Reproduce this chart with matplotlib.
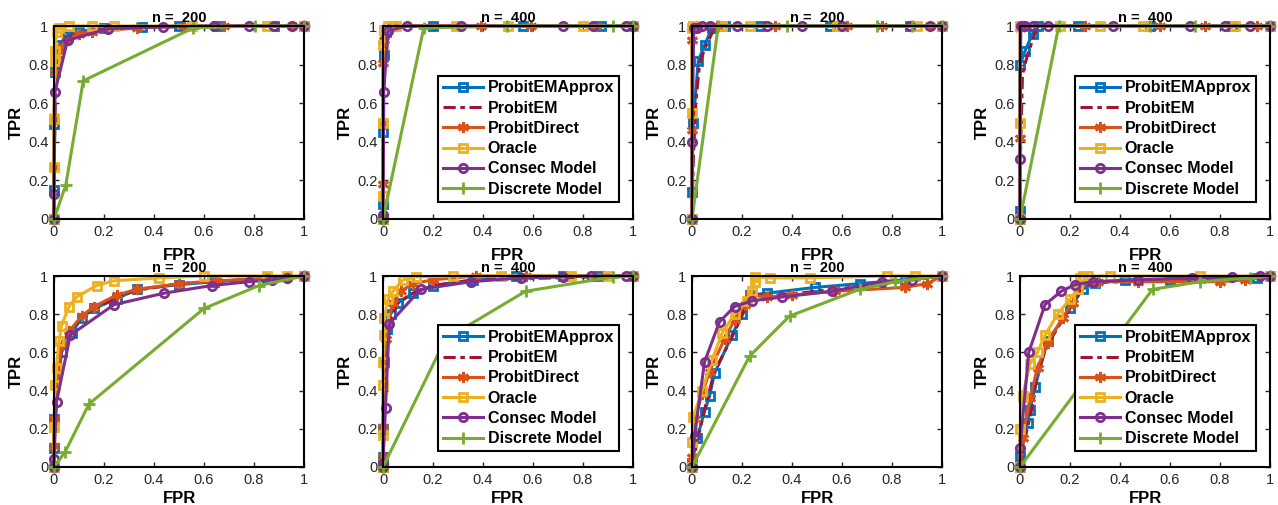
import matplotlib
matplotlib.use("Agg")
import matplotlib.pyplot as plt

# ROC points (FPR, TPR), one list per method and panel
# top row, panel 1 (n = 200)
t1_approx = [(0, 0), (0, 0.15), (0, 0.49), (0.005, 0.76), (0.02, 0.9), (0.05, 0.95), (0.1, 0.97), (0.2, 0.99), (0.35, 0.995), (0.5, 1), (0.65, 1), (0.88, 1), (1, 1)]
t1_em = [(0, 0), (0, 0.2), (0.005, 0.6), (0.01, 0.82), (0.03, 0.9), (0.07, 0.95), (0.15, 0.98), (0.3, 0.99), (0.6, 1), (1, 1)]
t1_direct = [(0, 0), (0, 0.27), (0, 0.53), (0.003, 0.76), (0.01, 0.85), (0.02, 0.88), (0.05, 0.93), (0.1, 0.96), (0.15, 0.97), (0.33, 0.99), (0.52, 1), (0.68, 1), (0.95, 1), (1, 1)]
t1_oracle = [(0, 0), (0, 0.27), (0, 0.52), (0.005, 0.82), (0.005, 0.87), (0.01, 0.97), (0.02, 0.99), (0.06, 1), (0.15, 1), (0.24, 1), (0.55, 1), (0.85, 1), (1, 1)]
t1_consec = [(0, 0), (0, 0.13), (0.004, 0.66), (0.054, 0.925), (0.215, 0.986), (0.436, 0.995), (0.64, 1), (0.78, 1), (0.88, 1), (0.95, 1), (1, 1)]
t1_discrete = [(0, 0), (0.047, 0.175), (0.117, 0.716), (0.557, 0.99), (0.805, 1), (1, 1)]

# top row, panel 2 (n = 400)
t2_approx = [(0, 0), (0, 0.08), (0, 0.45), (0.003, 0.85), (0.01, 0.97), (0.04, 1), (0.2, 1), (0.56, 1), (0.87, 1), (1, 1)]
t2_em = [(0, 0), (0, 0.3), (0.003, 0.8), (0.01, 0.96), (0.04, 1), (0.3, 1), (1, 1)]
t2_direct = [(0, 0), (0, 0.18), (0, 0.5), (0, 0.81), (0.005, 0.93), (0.02, 0.99), (0.05, 1), (0.39, 1), (0.59, 1), (0.85, 1), (1, 1)]
t2_oracle = [(0, 0), (0, 0.12), (0, 0.5), (0, 0.9), (0.005, 0.98), (0.02, 1), (0.05, 1), (0.29, 1), (0.5, 1), (0.8, 1), (1, 1)]
t2_consec = [(0, 0), (0, 0.02), (0.003, 0.66), (0.02, 0.975), (0.095, 1), (0.31, 1), (0.72, 1), (0.84, 1), (0.97, 1), (1, 1)]
t2_discrete = [(0, 0), (0.163, 0.99), (0.497, 1), (0.92, 1), (1, 1)]

# top row, panel 3 (n = 200)
t3_approx = [(0, 0), (0, 0.14), (0.005, 0.5), (0.025, 0.82), (0.05, 0.9), (0.08, 0.99), (0.13, 1), (0.27, 1), (0.55, 1), (0.87, 1), (1, 1)]
t3_em = [(0, 0), (0.005, 0.3), (0.015, 0.6), (0.03, 0.8), (0.05, 0.88), (0.09, 0.99), (0.2, 1), (1, 1)]
t3_direct = [(0, 0), (0, 0.46), (0, 0.93), (0.005, 0.99), (0.02, 1), (0.1, 1), (0.33, 1), (0.62, 1), (0.76, 1), (0.95, 1), (1, 1)]
t3_oracle = [(0, 0), (0, 0.55), (0, 0.99), (0.003, 1), (0.12, 1), (0.23, 1), (0.58, 1), (0.9, 1), (1, 1)]
t3_consec = [(0, 0), (0, 0.4), (0.007, 0.99), (0.02, 0.99), (0.04, 1), (0.07, 1), (0.18, 1), (0.3, 1), (0.44, 1), (0.6, 1), (0.87, 1), (0.95, 1), (1, 1)]
t3_discrete = [(0, 0), (0.105, 1), (0.38, 1), (0.74, 1), (0.88, 1), (1, 1)]

# top row, panel 4 (n = 400)
t4_approx = [(0, 0), (0, 0.04), (0, 0.8), (0.02, 0.87), (0.05, 0.96), (0.07, 1), (0.23, 1), (0.52, 1), (0.85, 1), (1, 1)]
t4_em = [(0, 0), (0.003, 0.4), (0.01, 0.75), (0.03, 0.85), (0.07, 1), (0.2, 1), (1, 1)]
t4_direct = [(0, 0), (0, 0.42), (0, 0.99), (0.01, 1), (0.26, 1), (0.56, 1), (0.74, 1), (0.95, 1), (1, 1)]
t4_oracle = [(0, 0), (0, 0.5), (0, 1), (0.16, 1), (0.32, 1), (0.49, 1), (0.86, 1), (1, 1)]
t4_consec = [(0, 0), (0, 0.31), (0.003, 1), (0.02, 1), (0.05, 1), (0.11, 1), (0.37, 1), (0.68, 1), (0.82, 1), (0.92, 1), (1, 1)]
t4_discrete = [(0, 0), (0.155, 1), (0.52, 1), (0.7, 1), (1, 1)]

# bottom row, panel 1 (n = 200)
b1_approx = [(0, 0), (0, 0.1), (0, 0.25), (0.03, 0.6), (0.07, 0.7), (0.11, 0.78), (0.16, 0.83), (0.25, 0.88), (0.33, 0.93), (0.5, 0.955), (0.64, 0.97), (0.85, 0.99), (1, 1)]
b1_em = [(0, 0), (0, 0.2), (0.03, 0.62), (0.07, 0.71), (0.11, 0.79), (0.25, 0.89), (0.33, 0.925), (0.5, 0.96), (1, 1)]
b1_direct = [(0, 0), (0, 0.11), (0, 0.25), (0.03, 0.64), (0.06, 0.71), (0.11, 0.79), (0.16, 0.84), (0.25, 0.9), (0.33, 0.93), (0.5, 0.96), (0.65, 0.975), (0.93, 0.99), (1, 1)]
b1_oracle = [(0, 0), (0, 0.21), (0.003, 0.43), (0.01, 0.52), (0.02, 0.66), (0.03, 0.74), (0.06, 0.84), (0.09, 0.89), (0.17, 0.95), (0.24, 0.975), (0.42, 0.99), (0.6, 1), (0.85, 1), (0.93, 1), (1, 1)]
b1_consec = [(0, 0), (0, 0.04), (0.01, 0.34), (0.065, 0.69), (0.24, 0.85), (0.44, 0.91), (0.63, 0.95), (0.78, 0.97), (0.87, 0.98), (0.93, 0.99), (1, 1)]
b1_discrete = [(0, 0), (0.045, 0.08), (0.14, 0.33), (0.6, 0.83), (0.82, 0.95), (1, 1)]

# bottom row, panel 2 (n = 400)
b2_approx = [(0, 0), (0, 0.05), (0, 0.2), (0.005, 0.55), (0.015, 0.72), (0.03, 0.8), (0.06, 0.86), (0.12, 0.91), (0.2, 0.95), (0.36, 0.98), (0.53, 1), (0.72, 1), (0.86, 1), (1, 1)]
b2_em = [(0, 0), (0, 0.2), (0.01, 0.6), (0.03, 0.78), (0.06, 0.86), (0.12, 0.91), (0.2, 0.95), (0.37, 0.98), (1, 1)]
b2_direct = [(0, 0), (0, 0.05), (0, 0.21), (0.003, 0.54), (0.01, 0.67), (0.02, 0.76), (0.04, 0.86), (0.07, 0.92), (0.12, 0.96), (0.2, 0.98), (0.37, 1), (0.57, 1), (0.88, 1), (1, 1)]
b2_oracle = [(0, 0), (0, 0.17), (0, 0.43), (0, 0.55), (0.005, 0.69), (0.005, 0.78), (0.02, 0.88), (0.04, 0.92), (0.08, 0.98), (0.13, 0.995), (0.28, 1), (0.47, 1), (0.75, 1), (0.9, 1), (1, 1)]
b2_consec = [(0, 0), (0, 0.02), (0.01, 0.31), (0.025, 0.75), (0.15, 0.93), (0.35, 0.97), (0.55, 0.99), (0.72, 0.995), (0.83, 1), (0.97, 1), (1, 1)]
b2_discrete = [(0, 0), (0.25, 0.67), (0.57, 0.92), (0.92, 0.995), (1, 1)]

# bottom row, panel 3 (n = 200)
b3_approx = [(0, 0), (0, 0.02), (0.02, 0.15), (0.05, 0.29), (0.07, 0.37), (0.09, 0.49), (0.16, 0.69), (0.2, 0.8), (0.23, 0.9), (0.3, 0.91), (0.49, 0.94), (0.67, 0.96), (0.85, 0.98), (1, 1)]
b3_em = [(0, 0), (0.02, 0.13), (0.05, 0.3), (0.09, 0.5), (0.16, 0.68), (0.21, 0.82), (0.24, 0.9), (0.35, 0.9), (0.5, 0.92), (0.7, 0.95), (1, 1)]
b3_direct = [(0, 0), (0, 0.05), (0.01, 0.25), (0.04, 0.38), (0.07, 0.5), (0.13, 0.67), (0.17, 0.77), (0.21, 0.85), (0.23, 0.9), (0.3, 0.89), (0.4, 0.9), (0.57, 0.92), (0.85, 0.94), (0.94, 0.96), (1, 1)]
b3_oracle = [(0, 0), (0, 0.13), (0.005, 0.26), (0.04, 0.4), (0.08, 0.56), (0.12, 0.7), (0.17, 0.8), (0.22, 0.87), (0.24, 0.92), (0.25, 0.97), (0.25, 0.995), (0.31, 0.99), (0.47, 0.99), (0.78, 1), (0.89, 1), (1, 1)]
b3_consec = [(0, 0), (0.01, 0.16), (0.05, 0.55), (0.11, 0.76), (0.17, 0.84), (0.24, 0.87), (0.36, 0.89), (0.56, 0.92), (0.76, 0.97), (0.88, 0.98), (1, 1)]
b3_discrete = [(0, 0), (0.23, 0.58), (0.39, 0.79), (0.67, 0.93), (0.81, 0.97), (1, 1)]

# bottom row, panel 4 (n = 400)
b4_approx = [(0, 0), (0, 0.06), (0.03, 0.23), (0.04, 0.3), (0.06, 0.42), (0.11, 0.66), (0.2, 0.83), (0.25, 0.93), (0.3, 0.965), (0.42, 0.98), (0.6, 0.98), (0.95, 0.99), (1, 1)]
b4_em = [(0, 0), (0.02, 0.15), (0.05, 0.32), (0.07, 0.5), (0.11, 0.64), (0.17, 0.77), (0.21, 0.85), (0.25, 0.94), (0.3, 0.965), (1, 1)]
b4_direct = [(0, 0), (0.01, 0.15), (0.04, 0.36), (0.07, 0.52), (0.11, 0.65), (0.17, 0.78), (0.21, 0.86), (0.24, 0.96), (0.31, 0.97), (0.47, 0.97), (0.8, 0.97), (0.9, 0.98), (1, 1)]
b4_oracle = [(0, 0), (0, 0.2), (0.01, 0.37), (0.04, 0.54), (0.07, 0.6), (0.1, 0.69), (0.15, 0.8), (0.2, 0.88), (0.23, 0.93), (0.24, 0.99), (0.25, 1), (0.27, 1), (0.36, 1), (0.72, 1), (1, 1)]
b4_consec = [(0, 0), (0, 0.1), (0.035, 0.6), (0.1, 0.85), (0.165, 0.92), (0.22, 0.955), (0.29, 0.97), (0.47, 0.98), (0.69, 0.99), (0.85, 0.995), (0.96, 1), (1, 1)]
b4_discrete = [(0, 0), (0.53, 0.93), (0.72, 0.97), (0.92, 0.99), (1, 1)]

method_names = ["ProbitEMApprox", "ProbitEM", "ProbitDirect", "Oracle", "Consec Model", "Discrete Model"]
panel_titles = ["n =  200", "n =  400", "n =  200", "n =  400"]
tick_vals = [0, 0.2, 0.4, 0.6, 0.8, 1]
tick_labels = ["0", "0.2", "0.4", "0.6", "0.8", "1"]

panels = [
    [t1_approx, t1_em, t1_direct, t1_oracle, t1_consec, t1_discrete],
    [t2_approx, t2_em, t2_direct, t2_oracle, t2_consec, t2_discrete],
    [t3_approx, t3_em, t3_direct, t3_oracle, t3_consec, t3_discrete],
    [t4_approx, t4_em, t4_direct, t4_oracle, t4_consec, t4_discrete],
    [b1_approx, b1_em, b1_direct, b1_oracle, b1_consec, b1_discrete],
    [b2_approx, b2_em, b2_direct, b2_oracle, b2_consec, b2_discrete],
    [b3_approx, b3_em, b3_direct, b3_oracle, b3_consec, b3_discrete],
    [b4_approx, b4_em, b4_direct, b4_oracle, b4_consec, b4_discrete],
]

# matlab default line colours and marker styles
asterisk = (6, 2, 0)
styles = [
    dict(color="#0072BD", marker="s", ls="-"),
    dict(color="#A2142F", marker=None, ls=(0, (4, 1.5, 1.5, 1.5))),
    dict(color="#D95319", marker=asterisk, ls="-"),
    dict(color="#EDB120", marker="s", ls="-"),
    dict(color="#7E2F8E", marker="o", ls="-"),
    dict(color="#77AC30", marker="+", ls="-"),
]

plt.rcParams["font.family"] = ["Liberation Sans", "DejaVu Sans"]

W, H = 1278, 505
fig = plt.figure(figsize=(W / 100, H / 100), dpi=100)

lefts = [54, 383, 692, 1020]
row_tb = [(26, 219), (276, 467)]
ax_w = 250
axcol = "#262626"

for idx, series in enumerate(panels):
    row, col = divmod(idx, 4)
    top, bot = row_tb[row]
    ax = fig.add_axes([lefts[col] / W, (H - bot) / H, ax_w / W, (bot - top) / H])
    handles = []
    for pts, st, name in zip(series, styles, method_names):
        xs = [p[0] for p in pts]
        ys = [p[1] for p in pts]
        mk = st["marker"]
        if mk in ("s", "o"):
            ms = 6
        else:
            ms = 8
        (h,) = ax.plot(
            xs, ys, color=st["color"], ls=st["ls"], lw=2.2,
            marker=mk, ms=ms,
            mfc="none" if mk in ("s", "o") else st["color"],
            mew=2, clip_on=False, label=name,
        )
        handles.append(h)
    ax.set_xlim(0, 1)
    ax.set_ylim(0, 1)
    ax.set_xticks(tick_vals)
    ax.set_yticks(tick_vals)
    ax.set_xticklabels(tick_labels)
    ax.set_yticklabels(tick_labels)
    ax.tick_params(direction="in", top=True, right=True, length=3.5, width=1,
                   labelsize=10.5, colors=axcol, pad=4)
    for sp in ax.spines.values():
        sp.set_linewidth(1.5)
        sp.set_color("black")
        sp.set_zorder(5)
    ax.set_title(panel_titles[col], fontsize=10.5, fontweight="bold", pad=3)
    ax.set_xlabel("FPR", fontsize=12, fontweight="bold", labelpad=7 if row == 0 else 3)
    ax.set_ylabel("TPR", fontsize=12, fontweight="bold", labelpad=3)
    if col in (1, 3):
        leg = ax.legend(handles=handles, loc="upper left", bbox_to_anchor=(0.22, 0.743),
                        borderaxespad=0, fancybox=False, framealpha=1, edgecolor="black",
                        prop=dict(size=11.5, weight="bold"), handlelength=2.5,
                        handletextpad=0.3, labelspacing=0.33, borderpad=0.3)
        leg.get_frame().set_linewidth(1.5)
        leg.set_zorder(10)

fig.savefig("out.png", dpi=100)
